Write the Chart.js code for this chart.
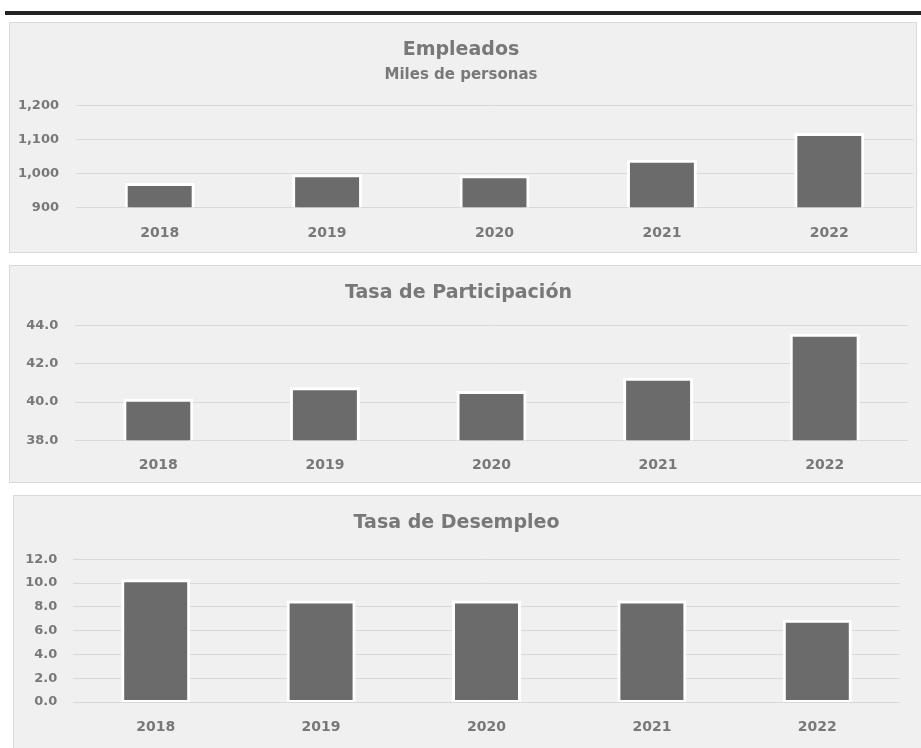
<!DOCTYPE html>
<html>
<head>
<meta charset="utf-8">
<script src="https://cdn.jsdelivr.net/npm/chart.js@4"></script>
<style>
  html, body { margin: 0; padding: 0; background: #ffffff; width: 921px; height: 748px; overflow: hidden; }
  .topbar { position: absolute; left: 5px; top: 11px; width: 916px; height: 4px; background: #222222; }
  .panel { position: absolute; box-sizing: border-box; background: #f0f0f0; border: 1px solid #d9d9d9; }
  .wrap { position: absolute; }
</style>
</head>
<body>
<div class="topbar"></div>

<div class="panel" style="left:9px;top:22px;width:908px;height:231px;"></div>
<div class="wrap" style="left:9px;top:22px;width:908px;height:231px;"><canvas id="c1"></canvas></div>

<div class="panel" style="left:9px;top:265px;width:920px;height:218px;"></div>
<div class="wrap" style="left:9px;top:265px;width:920px;height:218px;"><canvas id="c2"></canvas></div>

<div class="panel" style="left:13px;top:495px;width:915px;height:260px;"></div>
<div class="wrap" style="left:13px;top:495px;width:915px;height:260px;"><canvas id="c3"></canvas></div>

<script>
// ---- Data ----
const years = ['2018', '2019', '2020', '2021', '2022'];
const empleados = [967, 993, 990, 1036, 1115];          // miles de personas
const participacion = [40.1, 40.7, 40.5, 41.2, 43.5];  // %
const desempleo = [10.2, 8.4, 8.4, 8.4, 6.8];           // %

const empleadosAxis = [900, 1200, 100];
const participacionAxis = [38, 44, 2];
const desempleoAxis = [0, 12, 2];

const titles = ['Empleados', 'Tasa de Participación', 'Tasa de Desempleo'];
const subtitle1 = 'Miles de personas';

// ---- Styling ----
const TEXT = '#787878';
const FONT = 'DejaVu Sans';
Chart.defaults.font.family = FONT;
Chart.defaults.color = TEXT;

function makeChart(id, values, axis, opts) {
  const [mn, mx, step] = axis;
  return new Chart(document.getElementById(id), {
    type: 'bar',
    data: {
      labels: years,
      datasets: [{
        data: values,
        backgroundColor: '#6b6b6b',
        borderColor: '#ffffff',
        borderWidth: 3,
        borderSkipped: false,
        inflateAmount: 1.5,
        barPercentage: opts.barPct,
        categoryPercentage: 1
      }]
    },
    options: {
      responsive: true,
      maintainAspectRatio: false,
      animation: false,
      layout: { padding: { top: 0, left: 0, right: opts.padRight, bottom: 0 } },
      plugins: {
        legend: { display: false },
        tooltip: { enabled: false },
        title: {
          display: true,
          text: opts.title,
          color: TEXT,
          font: { family: FONT, size: 19, weight: 'bold' },
          padding: { top: opts.titleTop, bottom: opts.titleBottom }
        },
        subtitle: {
          display: !!opts.subtitle,
          text: opts.subtitle || '',
          color: TEXT,
          font: { family: FONT, size: 15, weight: 'bold' },
          padding: { top: opts.subTop || 0, bottom: opts.subBottom || 0 }
        }
      },
      scales: {
        x: {
          grid: { display: false, drawTicks: false },
          border: { display: false },
          ticks: { color: TEXT, font: { family: FONT, size: 14, weight: 'bold' }, padding: opts.xPad },
          afterFit: s => { s.height = opts.xHeight; }
        },
        y: {
          min: mn, max: mx,
          grid: { color: '#d9d9d9', lineWidth: 1, drawTicks: false },
          border: { display: false },
          ticks: {
            stepSize: step,
            color: TEXT,
            padding: opts.yPad,
            font: { family: FONT, size: 13, weight: 'bold' },
            callback: v => opts.fmt(v)
          },
          afterFit: s => { s.width = opts.yWidth; }
        }
      }
    }
  });
}

makeChart('c1', empleados, empleadosAxis, {
  title: titles[0], subtitle: subtitle1,
  titleTop: 16.3, titleBottom: 0, subTop: 5.4, subBottom: 21.2,
  padRight: 4, yWidth: 67, yPad: 17, xHeight: 45.7, xPad: 17.3, barPct: 0.400,
  fmt: v => Number(v).toLocaleString('en-US')
});

makeChart('c2', participacion, participacionAxis, {
  title: titles[1],
  titleTop: 16.6, titleBottom: 21.3,
  padRight: 21, yWidth: 66, yPad: 16.7, xHeight: 42.7, xPad: 16.8, barPct: 0.402,
  fmt: v => Number(v).toFixed(1)
});

makeChart('c3', desempleo, desempleoAxis, {
  title: titles[2],
  titleTop: 16.4, titleBottom: 25.1,
  padRight: 28, yWidth: 60, yPad: 15.7, xHeight: 53, xPad: 16.6, barPct: 0.399,
  fmt: v => Number(v).toFixed(1)
});
</script>
</body>
</html>
